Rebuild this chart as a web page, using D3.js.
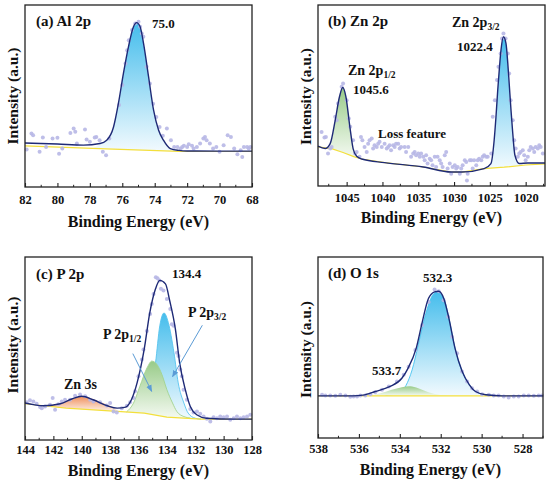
<!DOCTYPE html>
<html>
<head>
<meta charset="utf-8">
<script src="https://cdn.jsdelivr.net/npm/d3@7"></script>
<style>
  body { margin: 0; background: #fff; }
</style>
</head>
<body>
<svg id="fig" width="550" height="485"></svg>
<script>
// 數據：[結合能 eV, 強度 (歸一化 0-100)]
// (a) Al 2p
const alPts = [[81.9,20.6],[81.6,29.4],[81.5,28.4],[81.1,19.3],[80.9,27.2],[80.7,22.0],[80.3,26.6],[80.0,27.0],[79.9,18.3],[79.7,21.1],[79.2,29.7],[79.0,32.1],[78.9,30.3],[78.8,23.9],[78.3,31.6],[78.2,26.1],[78.0,24.8],[77.7,27.2],[77.6,27.5],[77.4,25.7],[77.2,19.3],[77.0,17.4],[76.8,26.6],[76.2,45.0],[76.0,56.0],[75.8,67.9],[75.7,75.2],[75.6,80.7],[75.4,86.2],[75.2,89.9],[75.0,90.8],[74.9,88.1],[74.8,84.4],[74.7,82.6],[74.5,66.1],[74.3,56.9],[74.1,45.7],[73.9,38.4],[73.7,33.0],[73.5,28.1],[73.25,32.1],[73.0,25.7],[72.8,22.0],[72.6,22.0],[72.4,21.1],[72.3,22.0],[72.2,22.6],[72.0,22.0],[71.9,23.5],[71.7,22.6],[71.6,21.1],[71.4,22.0],[71.2,23.9],[71.0,26.6],[70.9,27.5],[70.8,25.7],[70.6,23.9],[70.4,21.1],[70.2,22.0],[70.0,19.3],[69.75,22.9],[69.5,28.4],[69.3,27.5],[69.1,21.1],[68.9,18.0],[68.7,20.2],[68.6,16.5],[68.5,22.0],[68.3,22.0],[68.2,21.1],[68.1,22.0]]
const alFit = [[82,24.2],[80,23.6],[78.4,23.0],[77.37,23.9],[76.96,25.7],[76.54,33],[76.24,45.9],[75.93,62.4],[75.62,77],[75.31,88],[75.12,90.3],[74.9,88],[74.69,78.9],[74.38,60.6],[74.07,42.2],[73.76,31.2],[73.46,25.7],[73.04,21.1],[72.5,20.1],[72,19.8],[70,19.7],[68,19.7]]
const alPeak = [[77.8,21.3],[77.37,23.5],[76.96,25.5],[76.54,32.8],[76.24,45.7],[75.93,62.2],[75.62,76.8],[75.31,87.8],[75.12,90.1],[74.9,87.8],[74.69,78.7],[74.38,60.4],[74.07,42],[73.76,31],[73.46,25.5],[73.04,20.9],[72.6,19.8]]
const alBase = [[82,22.6],[77,21.0],[72.5,19.6],[68,19.5]]

// (b) Zn 2p
const znPts = [[1048.5,29.9],[1048.1,26.8],[1047.9,27.1],[1047.6,17.9],[1047.3,20.7],[1047.1,21.6],[1046.6,38.2],[1046.4,36.3],[1046.2,45.6],[1045.7,54.8],[1045.5,56.6],[1045.0,47.4],[1044.7,37.3],[1044.5,32.7],[1044.1,25.3],[1043.8,17.9],[1043.6,18.8],[1043.2,16.1],[1043.0,27.1],[1042.8,25.3],[1042.5,21.6],[1042.2,18.8],[1042.0,23.4],[1041.8,25.3],[1041.5,26.2],[1041.3,20.7],[1041.1,22.5],[1040.8,21.6],[1040.6,23.4],[1040.4,24.4],[1040.1,21.6],[1039.7,23.4],[1039.4,20.7],[1039.2,21.6],[1039.0,22.5],[1038.8,19.7],[1038.5,22.5],[1038.3,21.6],[1038.1,23.4],[1037.8,23.4],[1037.6,20.7],[1037.4,21.6],[1036.9,21.6],[1036.7,18.8],[1036.4,21.6],[1036.0,16.1],[1035.7,17.9],[1035.5,18.8],[1035.3,17.0],[1035.0,17.9],[1034.8,16.1],[1034.6,17.9],[1034.3,16.1],[1034.1,14.2],[1033.9,17.0],[1033.7,12.4],[1033.4,15.1],[1033.2,14.2],[1033.0,11.4],[1032.7,16.1],[1032.5,10.5],[1032.3,16.1],[1032.0,14.2],[1031.8,12.4],[1031.6,10.5],[1031.3,17.0],[1031.1,18.8],[1030.9,9.6],[1030.6,12.4],[1030.4,6.8],[1030.2,10.5],[1029.9,11.4],[1029.7,9.6],[1029.5,10.5],[1029.2,6.8],[1029.0,9.6],[1028.8,11.4],[1028.5,14.2],[1028.3,13.3],[1028.2,3.1],[1028.1,6.8],[1027.8,14.2],[1027.6,14.2],[1027.4,9.6],[1027.2,14.2],[1026.9,11.4],[1026.7,14.2],[1026.5,15.1],[1026.2,14.2],[1026.0,16.1],[1025.8,17.0],[1025.5,16.1],[1025.3,16.1],[1024.8,17.9],[1024.6,38.2],[1024.3,47.4],[1024.0,58.5],[1023.8,65.9],[1023.5,73.2],[1023.3,81.5],[1023.1,84.3],[1022.8,81.5],[1022.5,73.2],[1022.3,62.2],[1022.1,47.4],[1021.8,36.3],[1021.6,25.3],[1021.4,20.7],[1021.1,16.1],[1020.9,17.9],[1020.7,18.8],[1020.4,19.7],[1020.2,17.0],[1020.0,14.2],[1019.7,16.1],[1019.5,19.7],[1019.3,21.6],[1019.0,20.7],[1018.8,18.8],[1018.6,21.6],[1018.3,20.7],[1018.1,22.5],[1017.9,21.6],[1017.6,17.9]]
const znFit = [[1049.0,22.0],[1048.0,20.7],[1047.3,23.4],[1046.6,36.3],[1046.0,49.3],[1045.55,54.4],[1045.1,49.3],[1044.55,32.7],[1044.1,20.7],[1043.6,16.4],[1042.9,14.9],[1039.7,12.9],[1034.3,10.5],[1030.4,7.7],[1028.9,7.7],[1025.8,9.6],[1024.85,12.4],[1024.4,25.3],[1024.15,38],[1023.9,53.0],[1023.65,66],[1023.45,75.0],[1023.1,82.5],[1022.75,78.8],[1022.5,68],[1022.3,56.6],[1022.05,42],[1021.8,29.0],[1021.5,17.0],[1020.9,12.4],[1019.7,12.7],[1017.3,12.7]]
const zn2p12 = [[1047.9,21.0],[1047.3,23.0],[1046.6,36.3],[1046.0,49.3],[1045.55,54.4],[1045.1,49.3],[1044.55,32.7],[1044.1,20.7],[1043.6,16.3],[1043.2,15.4]]
const zn2p32 = [[1025.8,9.6],[1024.85,11.5],[1024.4,24.5],[1024.15,37.5],[1023.9,52.5],[1023.65,65.5],[1023.45,74.5],[1023.1,82.0],[1022.75,78.3],[1022.5,67.5],[1022.3,56],[1022.05,41.5],[1021.8,28.5],[1021.5,16.5],[1020.9,11.9],[1020.3,11.5]]
const znBase = [[1049,21.6],[1047,20.5],[1045.5,18.5],[1044,16.2],[1042.9,14.9],[1039.7,12.9],[1034.3,10.5],[1030.4,7.7],[1028.9,7.7],[1025.8,9.6],[1023,10.4],[1020,11.6],[1017.3,12.2]]

// (c) P 2p
const pPts = [[143.88,20.6],[143.65,21.7],[143.41,21.1],[143.18,19.8],[142.94,18.0],[142.82,17.4],[142.59,18.3],[142.24,19.3],[142.05,22.9],[141.88,16.5],[141.65,19.6],[141.41,21.1],[141.18,22.0],[140.82,22.0],[140.47,24.2],[140.12,24.8],[139.76,23.9],[139.41,22.0],[139.18,21.1],[138.71,20.6],[138.24,18.9],[138.0,20.2],[137.76,15.6],[137.53,15.0],[137.18,17.4],[136.82,18.7],[136.59,20.6],[136.35,22.9],[136.24,26.6],[136.0,34.9],[135.76,44.0],[135.65,49.5],[135.41,59.6],[135.18,68.8],[135.06,74.3],[134.94,79.8],[134.78,89.0],[134.66,88.4],[134.52,87.2],[134.42,82.6],[134.24,81.7],[134.0,77.1],[133.76,71.6],[133.65,63.3],[133.53,62.4],[133.29,47.7],[133.18,45.9],[133.06,38.5],[132.94,34.9],[132.82,27.5],[132.59,22.0],[132.35,16.9],[132.12,15.0],[131.88,15.6],[131.65,14.3],[131.41,12.8],[131.18,11.6],[130.94,10.1],[130.71,12.5],[130.47,11.9],[130.24,12.8],[130.0,12.5],[129.76,12.8],[129.53,11.0],[129.29,11.9],[129.06,12.8],[128.82,11.9],[128.59,12.5],[128.35,12.8],[128.12,13.8]]
const pFit = [[144,20.2],[143.4,19.3],[142.7,18.7],[141.5,19.8],[140.7,22.4],[140.0,23.9],[139.2,22.0],[138.2,18.7],[137.5,17.4],[136.9,18.0],[136.5,22.0],[136.1,31.2],[135.6,49.5],[135.2,69.7],[134.8,82.6],[134.5,87.2],[134.1,85.3],[133.8,76.1],[133.4,60.6],[133.1,42.2],[132.7,27.5],[132.35,18.3],[131.9,13.8],[131.2,11.9],[129.3,11.4],[128,11.4]]
const pZn3s = [[142.6,18.6],[142.2,18.9],[141.5,20.2],[140.7,22.4],[140.0,23.9],[139.2,22.4],[138.5,20.2],[137.9,18.3],[137.4,15.6]]
const p2p12 = [[136.85,15.3],[136.35,20.2],[135.9,29.4],[135.4,39.4],[135.06,43.1],[134.7,41.3],[134.35,35.8],[134.0,27.5],[133.6,20.2],[133.3,15.6],[132.8,12.8],[132.35,12.0]]
const p2p32 = [[135.65,14.7],[135.2,23.9],[134.8,42.2],[134.5,62.4],[134.2,69.4],[133.9,64.2],[133.5,47.7],[133.2,31.2],[132.8,20.2],[132.5,14.7],[132.0,11.9],[131.6,11.4]]
const pBase = [[144,19.8],[141.1,17.4],[137.5,15.6],[135.6,14.7],[134.0,12.5],[131.6,11.4],[128,11.4]]

// (d) O 1s
const oPts = [[537.80,23.9],[537.64,23.5],[537.40,23.5],[537.15,23.3],[536.91,23.9],[536.66,23.5],[536.42,22.8],[536.26,22.9],[536.09,22.9],[535.93,23.5],[535.69,23.5],[535.44,24.2],[535.20,25.3],[534.87,26.6],[534.54,28.4],[534.14,31.2],[533.81,34.9],[533.57,39.4],[533.24,48.6],[532.91,62.4],[532.59,75.2],[532.30,82.0],[532.10,81.1],[531.86,76.1],[531.64,67.0],[531.45,56.0],[531.20,46.8],[530.96,36.7],[530.71,31.2],[530.47,27.5],[530.22,25.7],[529.98,24.2],[529.65,23.9],[529.41,23.5],[529.17,23.5],[528.92,22.9],[528.68,22.4],[528.43,22.9],[528.19,22.9],[527.94,23.5],[527.70,23.5],[527.45,23.3],[527.21,23.5],[527.05,23.5]]
const oFit = [[538,23.3],[536.3,23.3],[535.8,23.7],[535.2,25.7],[534.5,28.4],[533.9,33.0],[533.6,38.5],[533.2,49.5],[532.9,64.2],[532.6,77.1],[532.3,80.7],[532.1,81.1],[531.85,77.1],[531.6,66.1],[531.3,49.5],[530.95,36.7],[530.6,29.4],[530.3,25.7],[529.8,23.9],[529.0,23.3],[527,23.3]]
const oMain = [[534.7,23.5],[534.05,24.8],[533.7,29.0],[533.4,37.6],[533.1,51.4],[532.75,67.9],[532.4,78.9],[532.2,80.6],[531.85,77.1],[531.6,66.1],[531.3,49.5],[530.95,36.7],[530.6,29.4],[530.3,25.7],[529.8,23.9],[529.0,23.3]]
const oSub = [[535.5,23.3],[534.9,24.8],[534.4,26.6],[533.9,28.1],[533.5,28.6],[533.1,27.5],[532.6,25.3],[532.1,23.9],[531.6,23.3]]
const oBase = [[538,23.3],[527,23.3]]

// 刻度
const alTicks = [82, 80, 78, 76, 74, 72, 70, 68]
const znTicks = [1045, 1040, 1035, 1030, 1025, 1020]
const pTicks = [144, 142, 140, 138, 136, 134, 132, 130, 128]
const oTicks = [538, 536, 534, 532, 530, 528]

const serif = 'Liberation Serif'
const svg = d3.select('#fig')
const defs = svg.append('defs')

// 漸層填色
function makeGrad(id, top, bottom) {
  const g = defs.append('linearGradient').attr('id', id)
    .attr('x1', 0).attr('y1', 0).attr('x2', 0).attr('y2', 1)
  g.append('stop').attr('offset', '0%').attr('stop-color', top)
  g.append('stop').attr('offset', '100%').attr('stop-color', bottom)
}
makeGrad('gBlue', '#45bdec', '#f2fafe')
makeGrad('gGreen', '#98cb88', '#f5faf2')
makeGrad('gOrange', '#f0905c', '#fdf1e8')

const arrowId = 'arrowHead'
defs.append('marker').attr('id', arrowId)
  .attr('viewBox', '0 0 10 10').attr('refX', 9).attr('refY', 5)
  .attr('markerWidth', 7).attr('markerHeight', 7).attr('orient', 'auto-start-reverse')
  .append('path').attr('d', 'M0,1 L10,5 L0,9 Z').attr('fill', '#5b9bd5')

// 文字樣式：用屬性設定字型
function txt(sel, size) {
  return sel.attr('font-family', serif).attr('font-weight', 'bold').attr('font-size', size).attr('fill', '#111')
}

function drawPanel(p) {
  const x = d3.scaleLinear().domain(p.domain).range([p.left, p.right])
  const y = d3.scaleLinear().domain([0, 100]).range([p.bottom, p.top])
  const base = d3.scaleLinear().domain(p.base.map(d => d[0])).range(p.base.map(d => d[1])).clamp(true)
  const g = svg.append('g')

  const curve = d3.curveMonotoneX
  // 各分峰
  p.comps.forEach(c => {
    g.append('path').datum(c.data)
      .attr('fill', `url(#${c.fill})`)
      .attr('d', d3.area().x(d => x(d[0])).y0(d => y(base(d[0]))).y1(d => y(d[1])).curve(curve))
    if (c.line) {
      g.append('path').datum(c.data)
        .attr('fill', 'none').attr('stroke', c.line).attr('stroke-width', 0.9)
        .attr('d', d3.line().x(d => x(d[0])).y(d => y(d[1])).curve(curve))
    }
  })

  // 背景線
  g.append('path').datum(p.base)
    .attr('fill', 'none').attr('stroke', '#f3df3c').attr('stroke-width', 1.2)
    .attr('d', d3.line().x(d => x(d[0])).y(d => y(d[1])))

  // 原始數據點
  g.selectAll('.pt').data(p.pts).join('circle')
    .attr('cx', d => x(d[0])).attr('cy', d => y(d[1]))
    .attr('r', 2).attr('fill', '#b7b7e6').attr('opacity', 0.9)

  // 擬合曲線
  g.append('path').datum(p.fit)
    .attr('fill', 'none').attr('stroke', '#1e2a76').attr('stroke-width', 1.4)
    .attr('d', d3.line().x(d => x(d[0])).y(d => y(d[1])).curve(curve))

  // 外框
  g.append('rect')
    .attr('x', p.left).attr('y', p.top)
    .attr('width', p.right - p.left).attr('height', p.bottom - p.top)
    .attr('fill', 'none').attr('stroke', '#222').attr('stroke-width', 1.3)

  // X 軸
  const xAxis = d3.axisBottom(x).tickValues(p.ticks).tickSizeInner(-4).tickSizeOuter(0)
    .tickPadding(p.pad).tickFormat(d3.format('d'))
  const ax = g.append('g').attr('transform', `translate(0,${p.bottom})`).call(xAxis)
  ax.attr('font-family', serif).attr('font-size', 12.5)
  ax.select('.domain').remove()
  txt(ax.selectAll('text'), 12.5)
  ax.selectAll('line').attr('stroke', '#222').attr('stroke-width', 1.1)
  g.selectAll('.minor').data(p.minor).join('line')
    .attr('x1', d => x(d)).attr('x2', d => x(d))
    .attr('y1', p.bottom).attr('y2', p.bottom - 2.2)
    .attr('stroke', '#222').attr('stroke-width', 1)

  txt(g.append('text'), 16).attr('x', (p.left + p.right) / 2).attr('y', p.titleY)
    .attr('text-anchor', 'middle').text('Binding Energy (eV)')
  txt(g.append('text'), 15.5)
    .attr('transform', `translate(${p.yTitleX},${p.yTitleY}) rotate(-90)`)
    .attr('text-anchor', 'middle').attr('dominant-baseline', 'central')
    .text('Intensity (a.u.)')

  // 標註文字
  p.labels.forEach(l => {
    const t = txt(g.append('text'), l.size).attr('x', l.x).attr('y', l.y)
    t.append('tspan').text(l.text)
    if (l.sub) t.append('tspan').attr('dy', 3).attr('font-size', l.size * 0.68).text(l.sub)
  })

  // 箭頭
  ;(p.arrows || []).forEach(a => {
    g.append('line')
      .attr('x1', x(a[0])).attr('y1', y(a[1])).attr('x2', x(a[2])).attr('y2', y(a[3]))
      .attr('stroke', '#5b9bd5').attr('stroke-width', 1).attr('marker-end', `url(#${arrowId})`)
  })
}

drawPanel({
  domain: [82, 68], left: 25, right: 252, top: 5, bottom: 187, pad: 8,
  ticks: alTicks, minor: [81, 79, 77, 75, 73, 71, 69],
  pts: alPts, fit: alFit, base: alBase,
  comps: [{ data: alPeak, fill: 'gBlue' }],
  titleY: 226.5, yTitleX: 12, yTitleY: 96,
  labels: [
    { x: 36, y: 26, size: 15, text: '(a) Al 2p' },
    { x: 152, y: 27.5, size: 13, text: '75.0' }
  ]
})

drawPanel({
  domain: [1049, 1017.3], left: 318, right: 545, top: 5, bottom: 186, pad: 7,
  ticks: znTicks, minor: [1047.5, 1042.5, 1037.5, 1032.5, 1027.5, 1022.5, 1017.5],
  pts: znPts, fit: znFit, base: znBase,
  comps: [{ data: zn2p12, fill: 'gGreen' }, { data: zn2p32, fill: 'gBlue' }],
  titleY: 223, yTitleX: 305, yTitleY: 96.5,
  labels: [
    { x: 328, y: 26, size: 15, text: '(b) Zn 2p' },
    { x: 452, y: 26.5, size: 14, text: 'Zn 2p', sub: '3/2' },
    { x: 457, y: 50.5, size: 13, text: '1022.4' },
    { x: 348, y: 74.5, size: 14, text: 'Zn 2p', sub: '1/2' },
    { x: 353, y: 94, size: 13, text: '1045.6' },
    { x: 378, y: 138, size: 13, text: 'Loss feature' }
  ]
})

drawPanel({
  domain: [144, 128], left: 25, right: 252, top: 257, bottom: 440, pad: 5,
  ticks: pTicks, minor: [143, 141, 139, 137, 135, 133, 131, 129],
  pts: pPts, fit: pFit, base: pBase,
  comps: [
    { data: pZn3s, fill: 'gOrange' },
    { data: p2p32, fill: 'gBlue', line: '#58c4ee' },
    { data: p2p12, fill: 'gGreen', line: '#a3d38f' }
  ],
  arrows: [[136.4, 47.2, 135.07, 26.6], [131.5, 62.7, 133.6, 34.6]],
  titleY: 476, yTitleX: 12.5, yTitleY: 345,
  labels: [
    { x: 36, y: 279, size: 15, text: '(c) P 2p' },
    { x: 172, y: 278, size: 13, text: '134.4' },
    { x: 188, y: 317, size: 14, text: 'P 2p', sub: '3/2' },
    { x: 103, y: 338.5, size: 14, text: 'P 2p', sub: '1/2' },
    { x: 64, y: 388.5, size: 14, text: 'Zn 3s' }
  ]
})

drawPanel({
  domain: [538, 527], left: 318, right: 543, top: 257, bottom: 438, pad: 6,
  ticks: oTicks, minor: [537, 535, 533, 531, 529, 527],
  pts: oPts, fit: oFit, base: oBase,
  comps: [
    { data: oMain, fill: 'gBlue', line: '#45c2ee' },
    { data: oSub, fill: 'gGreen' }
  ],
  titleY: 475, yTitleX: 305, yTitleY: 349.5,
  labels: [
    { x: 328, y: 278, size: 15, text: '(d) O 1s' },
    { x: 423, y: 282, size: 13, text: '532.3' },
    { x: 372, y: 375, size: 13, text: '533.7' }
  ]
})
</script>
</body>
</html>
